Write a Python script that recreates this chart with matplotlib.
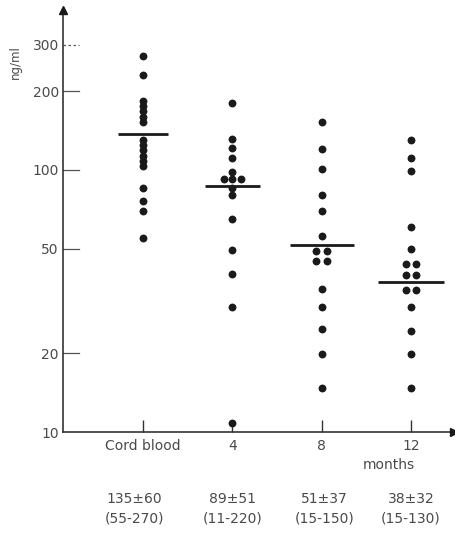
import matplotlib
matplotlib.use('Agg')
import matplotlib.pyplot as plt
import numpy as np
from collections import Counter
from matplotlib.transforms import blended_transform_factory
from matplotlib.ticker import NullLocator

# ---------------- data ----------------
groups = ["Cord blood", "4", "8", "12"]
cord_blood = [273, 231, 183, 175, 168, 160, 152, 130, 125, 119, 113, 108, 104, 85, 76, 70, 55]
month_4 = [180, 131, 121, 111, 98, 92, 92, 92, 85, 80, 65, 49.5, 40, 30, 10.8]
month_8 = [152, 120, 101, 80, 70, 56, 49, 49, 45, 45, 35, 30, 24.7, 19.8, 14.7]
month_12 = [130, 111, 99, 60.6, 49.8, 43.7, 43.7, 39.7, 39.7, 34.8, 34.8, 30, 24.4, 19.8, 14.7]
means = [137, 87, 51.6, 37.4]
stats_mean = ["135±60", "89±51", "51±37", "38±32"]
stats_range = ["(55-270)", "(11-220)", "(15-150)", "(15-130)"]
y_ticks = [10, 20, 50, 100, 200, 300]
y_tick_labels = ["10", "20", "50", "100", "200", "300"]
# --------------------------------------

plt.rcParams['font.family'] = ['DejaVu Sans']
TXT = '#4a4a4a'
INK = '#1a1a1a'

fig = plt.figure(figsize=(4.56, 5.34), dpi=100)
ax = fig.add_axes([63 / 456, 102 / 534, 391 / 456, 422 / 534])
ax.set_yscale('log')
ax.set_ylim(10, 408)
ax.set_xlim(0.104, 4.48)

series = [cord_blood, month_4, month_8, month_12]
positions = np.arange(1, len(groups) + 1)
half_widths = [0.28, 0.31, 0.36, 0.37]
steps = [0.11, 0.095, 0.12, 0.11]

for pos, vals, m, hw, step in zip(positions, series, means, half_widths, steps):
    counts = Counter(vals)
    xs, ys = [], []
    for v, n in counts.items():
        offs = (np.arange(n) - (n - 1) / 2) * step
        for o in offs:
            xs.append(pos + o)
            ys.append(v)
    ax.scatter(xs, ys, s=32, color=INK, zorder=3, linewidths=0)
    ax.plot([pos - hw, pos + hw], [m, m], color=INK, lw=2.0, zorder=4,
            solid_capstyle='butt')

# spines
for s in ['top', 'right']:
    ax.spines[s].set_visible(False)
for s in ['left', 'bottom']:
    ax.spines[s].set_color('#333333')
    ax.spines[s].set_linewidth(1.2)

# y ticks drawn manually (short inward lines)
ax.yaxis.set_minor_locator(NullLocator())
ax.set_yticks(y_ticks)
ax.set_yticklabels(y_tick_labels)
ax.tick_params(axis='y', length=0, pad=3, labelsize=10, labelcolor=TXT)
ytr = blended_transform_factory(ax.transAxes, ax.transData)
for v in y_ticks:
    if v == 10:
        continue
    ls = (0, (2, 2)) if v == 300 else '-'
    ax.plot([0, 0.04], [v, v], transform=ytr, color='#555555', lw=0.9, ls=ls,
            clip_on=False)

# x ticks
ax.set_xticks(positions)
ax.set_xticklabels(groups)
ax.tick_params(axis='x', direction='in', length=9, width=1, color='#333333',
               pad=5, labelsize=10, labelcolor=TXT)

# arrows
ax.plot([0.104], [408], marker='^', ms=6, color=INK, clip_on=False, zorder=5)
ax.plot([4.48], [10], marker='>', ms=6, color=INK, clip_on=False, zorder=5)

# labels
fig.text(15 / 456, 1 - 62 / 534, 'ng/ml', rotation=90, ha='center', va='center',
         fontsize=8.5, color=TXT)
fig.text(389 / 456, 1 - 465 / 534, 'months', ha='center', va='center',
         fontsize=10, color=TXT)

xtr = blended_transform_factory(ax.transData, ax.transAxes)
x_shift = [-0.1, 0, 0.03, 0]
for pos, sm, sr, dx in zip(positions, stats_mean, stats_range, x_shift):
    ax.text(pos + dx, (432 - 499) / 422, sm, transform=xtr, ha='center',
            va='center', fontsize=10, color=TXT)
    ax.text(pos + dx, (432 - 518) / 422, sr, transform=xtr, ha='center',
            va='center', fontsize=10, color=TXT)

fig.savefig('out.png', dpi=100)
